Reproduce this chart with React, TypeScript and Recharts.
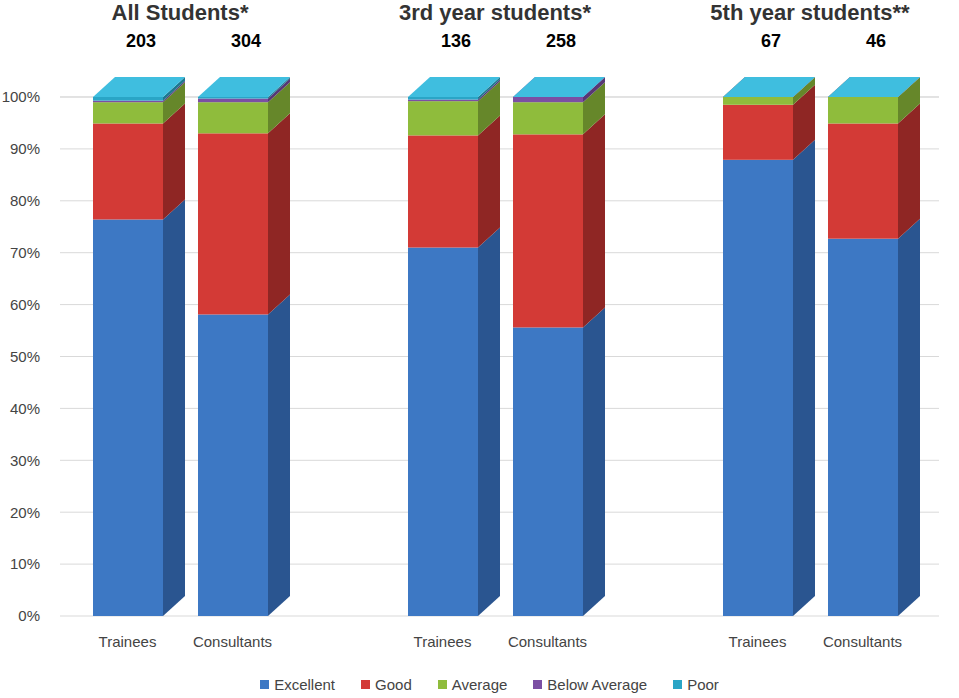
import { BarChart, Bar, XAxis, YAxis, CartesianGrid, Legend } from 'recharts'

const categories = ['Trainees', 'Consultants', '', 'Trainees', 'Consultants', '', 'Trainees', 'Consultants']
const excellent = [76.4, 58.1, null, 71.0, 55.6, null, 87.9, 72.7]
const good = [18.5, 34.9, null, 21.6, 37.2, null, 10.6, 22.2]
const average = [4.1, 6.0, null, 6.6, 6.2, null, 1.5, 5.1]
const belowAverage = [0.3, 0.7, null, 0.3, 1.0, null, 0, 0]
const poor = [0.7, 0.3, null, 0.5, 0, null, 0, 0]
const groupTitles = ['All Students*', '3rd year students*', '5th year students**']
const counts = ['203', '304', '', '136', '258', '', '67', '46']

const keys = ['excellent', 'good', 'average', 'below', 'poor']
const names = ['Excellent', 'Good', 'Average', 'Below Average', 'Poor']
const front = ['#3d78c4', '#d33a36', '#8fbc3c', '#7b4fa3', '#2aa5c6']
const side = ['#2a5590', '#8f2624', '#66872a', '#573875', '#1d7890']
const top = ['#5b93d6', '#e2605b', '#a9d058', '#9670bd', '#3fbedf']

const data = categories.map((c, i) => ({
  cat: c + (i === 2 || i === 5 ? ' '.repeat(i) : ''),
  excellent: excellent[i], good: good[i], average: average[i],
  below: belowAverage[i], poor: poor[i],
}))

const DX = 22
const DY = 20

function makeShape(k: number) {
  return (p: any) => {
    const { x, y, width, height, payload } = p
    if (x == null || !width || payload[keys[k]] == null) return <g />
    const isTop = keys.slice(k + 1).every(kk => !payload[kk])
    const h = Math.max(height, 0)
    return (
      <g>
        <rect x={x} y={y} width={width} height={h} fill={front[k]} />
        <polygon points={`${x + width},${y} ${x + width + DX},${y - DY} ${x + width + DX},${y + h - DY} ${x + width},${y + h}`} fill={side[k]} />
        {isTop && (
          <polygon points={`${x},${y} ${x + DX},${y - DY} ${x + width + DX},${y - DY} ${x + width},${y}`} fill={top[k]} />
        )}
      </g>
    )
  }
}

function LegendContent() {
  return (
    <div style={{ display: 'flex', justifyContent: 'center', gap: 26, fontSize: 15, color: '#444', fontFamily: 'Liberation Sans, Arial, sans-serif', marginLeft: 40, paddingTop: 30 }}>
      {names.map((n, i) => (
        <span key={n} style={{ display: 'flex', alignItems: 'center', gap: 5 }}>
          <span style={{ width: 9, height: 9, background: front[i], display: 'inline-block' }} />{n}
        </span>
      ))}
    </div>
  )
}

export default function App() {
  const titleX = [180, 495, 810]
  const slotX = [128, 233, 338, 443, 548, 653, 758, 863]
  return (
    <div style={{ position: 'absolute', left: 0, top: 0, width: 959, height: 698, background: '#fff', fontFamily: 'Liberation Sans, Arial, sans-serif' }}>
      {groupTitles.map((t, i) => (
        <div key={t} style={{ position: 'absolute', left: titleX[i] - 150, width: 300, top: 0, textAlign: 'center', fontWeight: 'bold', fontSize: 22, color: '#333' }}>{t}</div>
      ))}
      {counts.map((c, i) => c && (
        <div key={i} style={{ position: 'absolute', left: slotX[i] + 13 - 50, width: 100, top: 31, textAlign: 'center', fontWeight: 'bold', fontSize: 18, color: '#000' }}>{c}</div>
      ))}
      <BarChart width={959} height={698} data={data} margin={{ top: 97, right: 20, left: 0, bottom: 2 }}>
        <CartesianGrid vertical={false} stroke="#d9d9d9" />
        <XAxis dataKey="cat" axisLine={false} tickLine={false} padding={{ left: 15, right: 24 }}
          tick={{ fontSize: 15, fill: '#444' }} tickMargin={14} interval={0} />
        <YAxis domain={[0, 100]} ticks={[0, 10, 20, 30, 40, 50, 60, 70, 80, 90, 100]} width={60}
          axisLine={false} tickLine={false} tickFormatter={(v: number) => `${v}%`} tick={{ fontSize: 15, fill: '#444' }} tickMargin={14} />
        <Legend content={<LegendContent />} verticalAlign="bottom" height={50} />
        {keys.map((k, i) => (
          <Bar key={k} dataKey={k} stackId="a" barSize={70} isAnimationActive={false} shape={makeShape(i)} name={names[i]} />
        ))}
      </BarChart>
    </div>
  )
}
